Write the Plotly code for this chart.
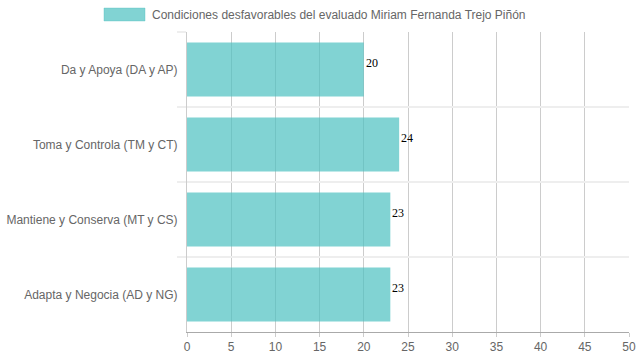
import plotly.graph_objects as go

categories = ["Da y Apoya (DA y AP)", "Toma y Controla (TM y CT)",
              "Mantiene y Conserva (MT y CS)", "Adapta y Negocia (AD y NG)"]
values = [20, 24, 23, 23]
series_name = "Condiciones desfavorables del evaluado Miriam Fernanda Trejo Piñón"
x_ticks = [0, 5, 10, 15, 20, 25, 30, 35, 40, 45, 50]

bar_fill = "rgba(75,192,192,0.7)"
font_main = "Liberation Sans, Arial, Helvetica, sans-serif"

fig = go.Figure()
fig.add_trace(go.Bar(
    y=categories, x=values, orientation="h",
    marker=dict(color=bar_fill, line=dict(width=0)),
    name=series_name, showlegend=False, hoverinfo="skip",
))

for c, v in zip(categories, values):
    fig.add_annotation(
        x=v, y=c, text=str(v), showarrow=False,
        xanchor="left", yanchor="bottom", xshift=0, yshift=-2,
        font=dict(family="Liberation Serif, Times New Roman, serif", size=12, color="#000"),
    )

# manual legend (wide colour box, Chart.js style)
fig.add_shape(type="rect", xref="paper", yref="paper",
              x0=-0.1878, x1=-0.095, y0=1.0367, y1=1.08,
              fillcolor=bar_fill, line=dict(color="rgba(75,192,192,0.35)", width=1))
fig.add_annotation(xref="paper", yref="paper", x=-0.0837, y=1.0583,
                   text=series_name, showarrow=False, xanchor="left", yanchor="middle",
                   font=dict(family=font_main, size=12, color="#666"))

fig.update_layout(
    width=639, height=360,
    margin=dict(l=187, r=10, t=32, b=28, autoexpand=False),
    paper_bgcolor="white", plot_bgcolor="white",
    bargap=0.28,
    font=dict(family=font_main, size=12, color="#666"),
    xaxis=dict(range=[0, 50], tickvals=x_ticks, showgrid=True, gridcolor="#cccccc",
               gridwidth=1, zeroline=False, showline=True, linecolor="#aaaaaa",
               ticks="outside", ticklen=4, tickcolor="#cccccc",
               ticklabeloverflow="allow",
               tickfont=dict(size=12, color="#666"), fixedrange=True, automargin=False),
    yaxis=dict(autorange="reversed", tickson="boundaries", showgrid=True,
               gridcolor="#eeeeee", gridwidth=2, showline=True, linecolor="#cccccc",
               linewidth=1, ticks="outside", ticklen=9, tickcolor="#eeeeee",
               tickwidth=2, ticklabelstandoff=6, tickfont=dict(size=12, color="#666"),
               fixedrange=True, automargin=False),
)

fig.write_html(
    "out.html",
    config={"displayModeBar": False, "staticPlot": True},
    post_script="document.body.style.margin='0';document.body.style.overflow='hidden';",
)
